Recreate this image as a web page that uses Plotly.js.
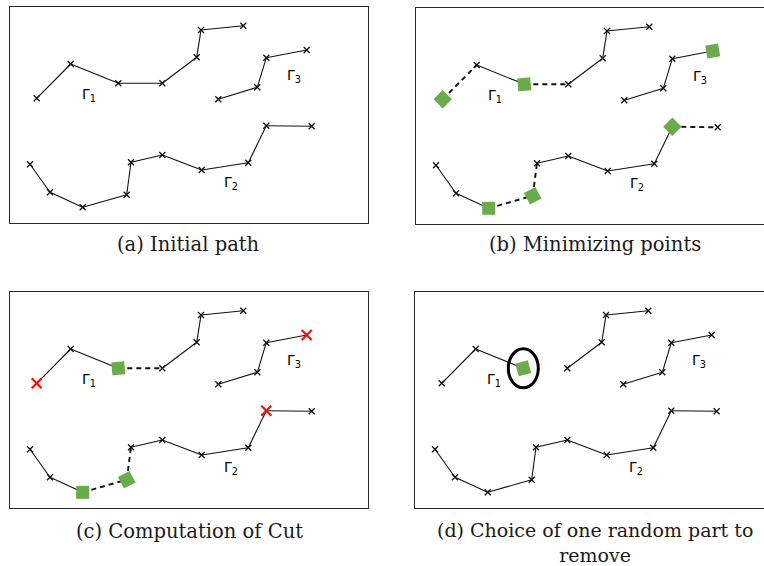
<!DOCTYPE html>
<html><head><meta charset="utf-8">
<script src="https://cdn.plot.ly/plotly-3.0.1.min.js"></script>
<style>html,body{margin:0;padding:0;background:#fff}#chart{width:764px;height:566px}</style>
</head><body><div id="chart"></div>
<script>
// Path vertices (panel-local units, y measured downward from the frame top)
const gamma1X = [26.7, 60.7, 108.3, 152.3, 186.7, 191.0, 233.3];
const gamma1Y = [91.3, 57.0, 76.3, 76.3, 50.3, 23.0, 18.7];
const gamma2X = [20.0, 40.0, 72.7, 116.7, 121.0, 152.3, 191.7, 238.3, 256.3, 301.7];
const gamma2Y = [157.3, 185.3, 200.3, 187.7, 155.3, 148.0, 163.0, 155.7, 118.7, 119.3];
const gamma3X = [208.3, 247.3, 256.3, 296.7];
const gamma3Y = [92.3, 80.3, 50.7, 43.0];
const pathLabels = ['Γ<sub>1</sub>', 'Γ<sub>2</sub>', 'Γ<sub>3</sub>'];
const labelX = [79, 221, 284];
const labelY = [88, 176, 69];
const captions = ['(a) Initial path', '(b) Minimizing points', '(c) Computation of Cut', '(d) Choice of one random part to<br>remove'];

// Segment state per panel: s = solid, d = dashed, n = removed
// Point state per panel: x = ordinary, q = minimizing point, r = cut point, c = chosen (circled)
const panelSegs = [
  ['ssssss', 'sssssssss', 'sss'],
  ['dsdsss', 'ssddssssd', 'sss'],
  ['ssdsss', 'ssddsssss', 'sss'],
  ['ssnsss', 'sssssssss', 'sss']
];
const panelPts = [
  ['xxxxxxx', 'xxxxxxxxxx', 'xxxx'],
  ['qxqxxxx', 'xxqqxxxxqx', 'xxxq'],
  ['rxqxxxx', 'xxqqxxxxrx', 'xxxr'],
  ['xxcxxxx', 'xxxxxxxxxx', 'xxxx']
];
const panelAngles = [
  [[0,0,0,0,0,0,0],[0,0,0,0,0,0,0,0,0,0],[0,0,0,0]],
  [[45,0,-5,0,0,0,0],[0,0,0,-28,0,0,0,0,45,0],[0,0,0,-10]],
  [[0,0,-5,0,0,0,0],[0,0,0,-28,0,0,0,0,0,0],[0,0,0,0]],
  [[0,0,-15,0,0,0,0],[0,0,0,0,0,0,0,0,0,0],[0,0,0,0]]
];

const paths = [[gamma1X, gamma1Y], [gamma2X, gamma2Y], [gamma3X, gamma3Y]];
const W = 764, H = 566;
const frames = [
  {l: 10, r: 368, t: 7, b: 223, mirrorY: true},
  {l: 416, r: 764, t: 8, b: 224, mirrorY: false},
  {l: 10, r: 368, t: 292, b: 508, mirrorY: true},
  {l: 415, r: 764, t: 292, b: 508, mirrorY: false}
];
const captionPos = [[188, 245], [595, 245], [189, 531], [595, 542]];
const captionSize = [19.5, 19.5, 19.5, 19];
const GREEN = '#6aab4b';

const traces = [];
const layout = {
  width: W, height: H, margin: {l: 0, r: 0, t: 0, b: 0},
  paper_bgcolor: '#fff', plot_bgcolor: 'rgba(0,0,0,0)',
  showlegend: false, annotations: [], shapes: []
};

frames.forEach((f, k) => {
  const xa = 'x' + (k ? k + 1 : ''), ya = 'y' + (k ? k + 1 : '');
  const xk = 'xaxis' + (k ? k + 1 : ''), yk = 'yaxis' + (k ? k + 1 : '');
  layout[xk] = {domain: [f.l / W, f.r / W], range: [0, f.r - f.l], showgrid: false, zeroline: false,
    showticklabels: false, ticks: '', showline: true, mirror: true, linecolor: '#2a2a2a', linewidth: 1.3,
    anchor: ya, fixedrange: true};
  layout[yk] = {domain: [1 - f.b / H, 1 - f.t / H], range: [f.b - f.t, 0], showgrid: false, zeroline: false,
    showticklabels: false, ticks: '', showline: true, mirror: f.mirrorY, linecolor: '#2a2a2a', linewidth: 1.3,
    anchor: xa, fixedrange: true};

  paths.forEach((p, j) => {
    const [px, py] = p;
    const segs = panelSegs[k][j], pts = panelPts[k][j], ang = panelAngles[k][j];
    ['s', 'd'].forEach(code => {
      const lx = [], ly = [];
      for (let i = 0; i < segs.length; i++) {
        if (segs[i] === code) {
          lx.push(px[i], px[i + 1], null);
          ly.push(py[i], py[i + 1], null);
        }
      }
      if (lx.length) traces.push({type: 'scatter', mode: 'lines', x: lx, y: ly, xaxis: xa, yaxis: ya,
        hoverinfo: 'skip',
        line: code === 's' ? {color: '#111', width: 1.1} : {color: '#111', width: 1.9, dash: '5px,4px'}});
    });
    const groups = {x: [[], [], []], q: [[], [], []], r: [[], [], []]};
    for (let i = 0; i < pts.length; i++) {
      const c = pts[i] === 'c' ? 'q' : pts[i];
      groups[c][0].push(px[i]); groups[c][1].push(py[i]); groups[c][2].push(ang[i]);
      if (pts[i] === 'c') {
        layout.shapes.push({type: 'circle', xref: xa, yref: ya, x0: px[i] - 15, x1: px[i] + 15,
          y0: py[i] - 19.5, y1: py[i] + 19.5, line: {color: '#000', width: 3}});
      }
    }
    if (groups.x[0].length) traces.push({type: 'scatter', mode: 'markers', x: groups.x[0], y: groups.x[1],
      xaxis: xa, yaxis: ya, hoverinfo: 'skip',
      marker: {symbol: 'x-thin', size: 6, line: {color: '#111', width: 1.3}}});
    if (groups.q[0].length) traces.push({type: 'scatter', mode: 'markers', x: groups.q[0], y: groups.q[1],
      xaxis: xa, yaxis: ya, hoverinfo: 'skip',
      marker: {symbol: 'square', size: 13, color: GREEN, angle: groups.q[2], line: {width: 0}}});
    if (groups.r[0].length) traces.push({type: 'scatter', mode: 'markers', x: groups.r[0], y: groups.r[1],
      xaxis: xa, yaxis: ya, hoverinfo: 'skip',
      marker: {symbol: 'x-thin', size: 10, line: {color: '#f01010', width: 2.2}}});

    layout.annotations.push({xref: xa, yref: ya, x: labelX[j], y: labelY[j], text: pathLabels[j],
      showarrow: false, font: {family: 'DejaVu Sans', size: 14, color: '#000'}});
  });

  layout.annotations.push({xref: 'paper', yref: 'paper', x: captionPos[k][0] / W, y: 1 - captionPos[k][1] / H,
    text: captions[k], showarrow: false, xanchor: 'center', yanchor: 'middle',
    font: {family: 'DejaVu Serif', size: captionSize[k], color: '#1a1a1a'}});
});

Plotly.newPlot('chart', traces, layout, {staticPlot: true, displayModeBar: false});
</script></body></html>
